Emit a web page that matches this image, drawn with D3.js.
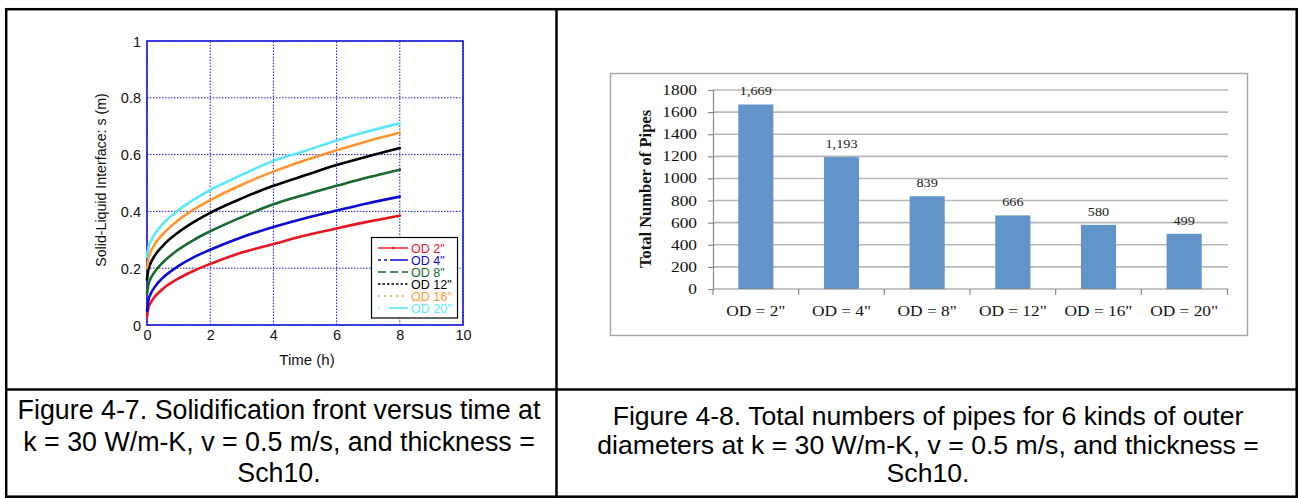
<!DOCTYPE html>
<html><head><meta charset="utf-8">
<script src="https://cdn.jsdelivr.net/npm/d3@7/dist/d3.min.js"></script>
<style>body{margin:0;background:#fff}svg{display:block}</style>
</head><body>
<svg id="c" width="1299" height="498"></svg>
<script>
// ---- Data: Figure 4-7 ----
const times = [0, 0.05, 0.1, 0.25, 0.5, 1, 1.5, 2, 3, 4, 5, 6, 7, 8];
const od2  = [0.03, 0.063, 0.075, 0.100, 0.127, 0.164, 0.192, 0.215, 0.255, 0.285, 0.315, 0.340, 0.364, 0.385];
const od4  = [0.05, 0.091, 0.106, 0.135, 0.166, 0.208, 0.240, 0.265, 0.309, 0.345, 0.376, 0.403, 0.429, 0.452];
const od8  = [0.11, 0.145, 0.160, 0.188, 0.220, 0.266, 0.301, 0.330, 0.380, 0.425, 0.459, 0.490, 0.520, 0.547];
const od12 = [0.16, 0.198, 0.214, 0.245, 0.279, 0.327, 0.364, 0.395, 0.446, 0.490, 0.527, 0.563, 0.594, 0.623];
const od16 = [0.20, 0.238, 0.254, 0.285, 0.320, 0.370, 0.408, 0.440, 0.494, 0.540, 0.580, 0.615, 0.648, 0.677];
const od20 = [0.24, 0.276, 0.291, 0.321, 0.356, 0.405, 0.443, 0.475, 0.529, 0.578, 0.613, 0.650, 0.682, 0.710];
const seriesNames = ['OD 2"', 'OD 4"', 'OD 8"', 'OD 12"', 'OD 16"', 'OD 20"'];
const xTicks1 = [0, 2, 4, 6, 8, 10];
const yTicks1 = [0, 0.2, 0.4, 0.6, 0.8, 1];

// ---- Data: Figure 4-8 ----
const categories = ['OD = 2"', 'OD = 4"', 'OD = 8"', 'OD = 12"', 'OD = 16"', 'OD = 20"'];
const pipes = [1669, 1193, 839, 666, 580, 499];
const yTicks2 = [0, 200, 400, 600, 800, 1000, 1200, 1400, 1600, 1800];

const captionLeft = ['Figure 4-7. Solidification front versus time at', 'k = 30 W/m-K, v = 0.5 m/s, and thickness =', 'Sch10.'];
const captionRight = ['Figure 4-8. Total numbers of pipes for 6 kinds of outer', 'diameters at k = 30 W/m-K, v = 0.5 m/s, and thickness =', 'Sch10.'];

const sans = 'Liberation Sans, Arial, sans-serif';
const serif = 'Liberation Serif, DejaVu Serif, serif';
const svg = d3.select('#c');
svg.append('rect').attr('width', 1299).attr('height', 498).attr('fill', '#fff');

// ---- table frame ----
const T = svg.append('g').attr('stroke', '#000').attr('stroke-width', 2.5).attr('fill', 'none');
T.append('rect').attr('x', 6.2).attr('y', 9.2).attr('width', 1290.5).attr('height', 487.5);
T.append('line').attr('x1', 556.5).attr('x2', 556.5).attr('y1', 9).attr('y2', 498);
T.append('line').attr('x1', 6).attr('x2', 1297).attr('y1', 389.5).attr('y2', 389.5);

// ---- Figure 4-7 ----
const x1 = d3.scaleLinear().domain([0, 10]).range([147, 463]);
const y1 = d3.scaleLinear().domain([0, 1]).range([325, 41]);
const blue = '#1a1ad6';
const g1 = svg.append('g');
g1.append('g').selectAll('line').data(xTicks1).join('line')
  .attr('x1', d => x1(d)).attr('x2', d => x1(d)).attr('y1', y1(0)).attr('y2', y1(1))
  .attr('stroke', blue).attr('stroke-width', 1).attr('stroke-dasharray', '1.5,1.5');
g1.append('g').selectAll('line').data(yTicks1).join('line')
  .attr('y1', d => y1(d)).attr('y2', d => y1(d)).attr('x1', x1(0)).attr('x2', x1(10))
  .attr('stroke', blue).attr('stroke-width', 1).attr('stroke-dasharray', '1.5,1.5');
g1.append('rect').attr('x', x1(0)).attr('y', y1(1)).attr('width', x1(10) - x1(0)).attr('height', y1(0) - y1(1))
  .attr('fill', 'none').attr('stroke', blue).attr('stroke-width', 1.6);

const ax = g1.append('g').attr('transform', `translate(0,${y1(0)})`)
  .call(d3.axisBottom(x1).tickValues(xTicks1).tickSize(0).tickPadding(5).tickFormat(d3.format('d')));
const ay = g1.append('g').attr('transform', `translate(${x1(0)},0)`)
  .call(d3.axisLeft(y1).tickValues(yTicks1).tickSize(0).tickPadding(6).tickFormat(d => d === 0 || d === 1 ? d : d3.format('.1f')(d)));
[ax, ay].forEach(a => {
  a.select('.domain').remove();
  a.selectAll('text').attr('font-family', sans).attr('font-size', 14.5).attr('fill', '#111');
});
ay.selectAll('text').attr('dy', '0.35em');

g1.append('text').attr('x', 307).attr('y', 365).attr('text-anchor', 'middle')
  .attr('font-family', sans).attr('font-size', 15).attr('fill', '#111').text('Time (h)');
g1.append('text').attr('transform', 'translate(106,180) rotate(-90)').attr('text-anchor', 'middle')
  .attr('font-family', sans).attr('font-size', 14.2).attr('fill', '#111')
  .text('Solid-Liquid Interface: s (m)');

const series = [od2, od4, od8, od12, od16, od20];
const colors = ['#e8141e', '#0a0ad2', '#17692c', '#000000', '#ff9530', '#5ae8f8'];
const line = d3.line().x((d, i) => x1(times[i])).y(d => y1(d)).curve(d3.curveMonotoneX);
g1.append('g').selectAll('path').data(series).join('path')
  .attr('d', d => line(d)).attr('fill', 'none').attr('stroke', (d, i) => colors[i])
  .attr('stroke-width', 2.6).attr('stroke-linecap', 'round');

const lg = g1.append('g');
lg.append('rect').attr('x', 371.5).attr('y', 237.5).attr('width', 86).attr('height', 80.5)
  .attr('fill', '#fff').attr('stroke', '#000').attr('stroke-width', 1.2);
const dashes = [null, '3,3,3,3,18', '8,4', '2.5,2', '2,4', '1.5,9,20'];
const rowY = i => 248 + i * 12;
seriesNames.forEach((n, i) => {
  lg.append('line').attr('x1', 378).attr('x2', 408).attr('y1', rowY(i)).attr('y2', rowY(i))
    .attr('stroke', colors[i]).attr('stroke-width', 1.4).attr('stroke-dasharray', dashes[i]);
  if (i === 0) lg.append('circle').attr('cx', 393).attr('cy', rowY(i)).attr('r', 1.3).attr('fill', colors[i]);
  lg.append('text').attr('x', 411).attr('y', rowY(i)).attr('dy', '0.36em')
    .attr('font-family', sans).attr('font-size', 12.5).attr('fill', colors[i]).text(n);
});

// ---- Figure 4-8 ----
const SX = 1.24; // horizontal stretch of the pasted chart's text
const g2 = svg.append('g');
g2.append('rect').attr('x', 610.5).attr('y', 73.5).attr('width', 637).attr('height', 262)
  .attr('fill', '#fff').attr('stroke', '#a4a4a4').attr('stroke-width', 1.4);
const xb = d3.scaleBand().domain(categories).range([713, 1227]).paddingInner(0.59).paddingOuter(0.295);
const yb = d3.scaleLinear().domain([0, 1800]).range([289, 90]);
g2.append('g').selectAll('line').data(yTicks2.slice(1)).join('line')
  .attr('x1', 713).attr('x2', 1228).attr('y1', d => yb(d)).attr('y2', d => yb(d))
  .attr('stroke', '#b8b8b8').attr('stroke-width', 1.6);
g2.append('g').selectAll('rect').data(pipes).join('rect')
  .attr('x', (d, i) => xb(categories[i])).attr('width', xb.bandwidth())
  .attr('y', d => yb(d)).attr('height', d => yb(0) - yb(d)).attr('fill', '#6195c9');
const ay2 = g2.append('g').attr('transform', 'translate(713,0)')
  .call(d3.axisLeft(yb).tickValues(yTicks2).tickSize(5).tickPadding(11).tickFormat(d3.format('d')));
ay2.select('.domain').attr('stroke', '#8a8a8a').attr('stroke-width', 1.2);
ay2.selectAll('line').attr('stroke', '#8a8a8a').attr('stroke-width', 1.2);
ay2.selectAll('text').attr('font-family', serif).attr('font-size', 14).attr('fill', '#111')
  .attr('x', -16 / SX).attr('transform', `scale(${SX},1)`);
const ax2 = g2.append('g').attr('transform', 'translate(0,289)')
  .call(d3.axisBottom(xb).tickSize(0).tickPadding(0));
ax2.select('.domain').attr('d', 'M713,0H1228').attr('stroke', '#8a8a8a').attr('stroke-width', 1.2);
ax2.selectAll('text').attr('font-family', serif).attr('font-size', 14).attr('fill', '#111')
  .attr('dy', null).attr('y', 27).attr('transform', `scale(${SX},1)`);
const bounds = categories.map(c => xb(c) - xb.step() * xb.paddingInner() / 2).concat([1227.5]);
bounds[0] = 713;
g2.append('g').selectAll('line').data(bounds).join('line')
  .attr('x1', d => d).attr('x2', d => d).attr('y1', 289).attr('y2', 295)
  .attr('stroke', '#8a8a8a').attr('stroke-width', 1.2);
g2.append('g').selectAll('text').data(pipes).join('text')
  .attr('transform', (d, i) => `translate(${xb(categories[i]) + xb.bandwidth() / 2},${yb(d) - 9}) scale(${SX},1)`)
  .attr('text-anchor', 'middle').attr('font-family', serif).attr('font-size', 11.5).attr('fill', '#222')
  .text(d => d3.format(',')(d));
g2.append('text').attr('transform', 'translate(651,189) rotate(-90)').attr('text-anchor', 'middle')
  .attr('font-family', serif).attr('font-size', 16.5).attr('font-weight', 'bold').attr('fill', '#111')
  .text('Total Number of Pipes');

// ---- captions ----
const cap = (lines, cx, ys, fs) => lines.forEach((t, i) => svg.append('text').attr('x', cx).attr('y', ys[i])
  .attr('text-anchor', 'middle').attr('font-family', sans)
  .attr('font-size', fs).attr('fill', '#000').text(t));
cap(captionLeft, 279, [419, 451, 482], 26.8);
cap(captionRight, 928, [425, 454, 482], 26.6);
</script>
</body></html>
